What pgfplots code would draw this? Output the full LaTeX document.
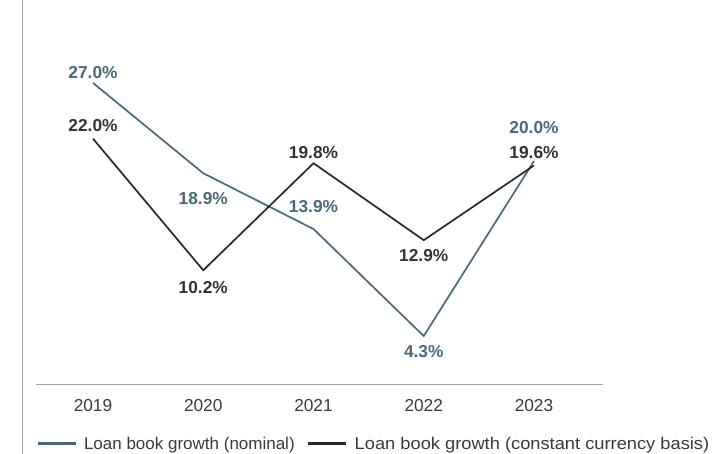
\documentclass[border=0pt]{standalone}
\usepackage{graphicx}
\usepackage{pgfplots}
\pgfplotsset{compat=1.18}
\usepackage{fontspec}
\setmainfont{Liberation Sans}
\definecolor{nomc}{HTML}{47697A}
\definecolor{conc}{HTML}{1F2A32}
\definecolor{nomlab}{HTML}{47697A}
\definecolor{conlab}{HTML}{333333}
\definecolor{vline}{HTML}{A0A0A0}
\definecolor{txt}{HTML}{3A3A3A}
\begin{document}
\begin{tikzpicture}
\useasboundingbox (0,0) rectangle (718bp,454bp);
\draw[vline, line width=1.8bp] (22.5bp,0) -- (22.5bp,454bp);
\begin{axis}[
  at={(93bp,70bp)}, anchor=origin,
  x=110.25bp, y=11.15bp,
  xmin=-0.517, xmax=4.626, ymin=0, ymax=34,
  clip=false,
  axis y line=none,
  axis x line*=bottom,
  x axis line style={draw=gray!75, line width=0.9bp, -},
  xtick={0,1,2,3,4},
  xticklabels={2019,2020,2021,2022,2023},
  major tick length=0pt,
  xticklabel style={anchor=center, yshift=-22bp, font=\fontsize{17.3bp}{20bp}\selectfont, text=txt},
  legend columns=2,
  legend style={at={(0,-0.158)}, anchor=west, draw=none, fill=none, inner sep=0pt, outer sep=0pt,
    nodes={inner sep=0pt}, font=\fontsize{17bp}{20bp}\selectfont, text=txt,
    column sep=7bp,
    /tikz/every even column/.append style={column sep=12bp}},
  legend image code/.code={\draw[#1, line width=3bp] (0bp,0bp) -- (38bp,0bp);},
]
\addplot[color=nomc, line width=1.7bp, line join=miter] coordinates {(0,27.0) (1,18.9) (2,13.9) (3,4.3) (4,20.0)};
\addlegendentry{Loan book growth (nominal)}
\addplot[color=conc, line width=1.7bp, line join=miter] coordinates {(0,22.0) (1,10.2) (2,19.8) (3,12.9) (4,19.6)};
\addlegendentry{\scalebox{1.075}[1]{Loan book growth (constant currency basis)}}
\begin{scope}[every node/.style={font=\bfseries\fontsize{17.3bp}{20bp}\selectfont, anchor=center}]
\node[text=nomlab] at (axis cs:0,27.0) [yshift=10bp] {27.0\%};
\node[text=nomlab] at (axis cs:1,18.9) [yshift=-25bp] {18.9\%};
\node[text=nomlab] at (axis cs:2,13.9) [yshift=22bp] {13.9\%};
\node[text=nomlab] at (axis cs:3,4.3) [yshift=-16bp] {4.3\%};
\node[text=nomlab] at (axis cs:4,20.0) [yshift=33bp] {20.0\%};
\node[text=conlab] at (axis cs:0,22.0) [yshift=13bp] {22.0\%};
\node[text=conlab] at (axis cs:1,10.2) [yshift=-17bp] {10.2\%};
\node[text=conlab] at (axis cs:2,19.8) [yshift=11bp] {19.8\%};
\node[text=conlab] at (axis cs:3,12.9) [yshift=-15bp] {12.9\%};
\node[text=conlab] at (axis cs:4,19.6) [yshift=13bp] {19.6\%};
\end{scope}
\end{axis}
\end{tikzpicture}
\end{document}
